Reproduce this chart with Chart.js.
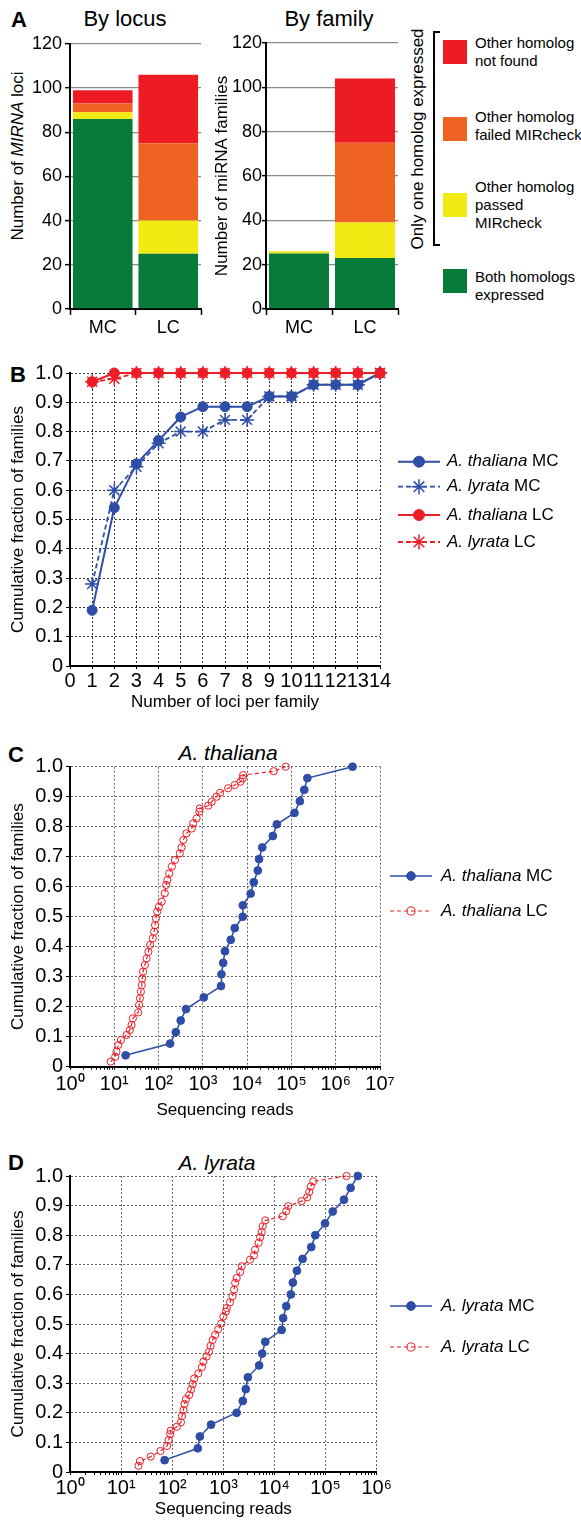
<!DOCTYPE html>
<html>
<head>
<meta charset="utf-8">
<script src="https://cdn.jsdelivr.net/npm/chart.js@4.4.1/dist/chart.umd.min.js"></script>
<style>
body { margin: 0; background: #fff; }
#page { position: relative; width: 581px; height: 1520px; overflow: hidden; font-family: "Liberation Sans", Arial, sans-serif; color: #000; }
canvas { position: absolute; }
.t { position: absolute; white-space: nowrap; line-height: 1; }
.c { transform: translateX(-50%); }
.r { transform: translate(-50%, -50%) rotate(-90deg); }
.sq { position: absolute; left: 443px; width: 24px; height: 24px; }
.lt { position: absolute; left: 475px; font-size: 15px; line-height: 18px; white-space: nowrap; }
</style>
</head>
<body>
<div id="page">
  <div class="t" style="left:11px;top:9px;font-size:22px;font-weight:bold">A</div>
  <div class="t c" style="left:125px;top:8px;font-size:22px">By locus</div>
  <div class="t c" style="left:329px;top:8px;font-size:22px">By family</div>
  <div class="t r" style="left:17px;top:156px;font-size:17px">Number of <i>MIRNA</i> loci</div>

  <div class="t r" style="left:417px;top:139px;font-size:17px">Only one homolog expressed</div>
  <div style="position:absolute;left:433px;top:31px;width:5px;height:211px;border:2px solid #000;border-right:none"></div>
  <div class="sq" style="top:40px;background:#ED1C24"></div>
  <div class="lt" style="top:34px">Other homolog<br>not found</div>
  <div class="sq" style="top:117px;background:#EE6321"></div>
  <div class="lt" style="top:108px">Other homolog<br>failed MIRcheck</div>
  <div class="sq" style="top:193px;background:#F2EA12"></div>
  <div class="lt" style="top:178px">Other homolog<br>passed<br>MIRcheck</div>
  <div class="sq" style="top:269px;background:#087B3A"></div>
  <div class="lt" style="top:268px">Both homologs<br>expressed</div>

  <div class="t" style="left:10px;top:364px;font-size:22px;font-weight:bold">B</div>
  <div class="t" style="left:8px;top:744px;font-size:22px;font-weight:bold">C</div>
  <div class="t c" style="left:228px;top:742px;font-size:21px;font-style:italic">A. thaliana</div>
  <div class="t" style="left:8px;top:1152px;font-size:22px;font-weight:bold">D</div>
  <div class="t c" style="left:217px;top:1152px;font-size:21px;font-style:italic">A. lyrata</div>

  <canvas id="locus" width="210" height="318" style="left:0;top:30px"></canvas>
  <canvas id="family" width="210" height="318" style="left:200px;top:30px"></canvas>
  <canvas id="loci" width="581" height="380" style="left:0;top:340px"></canvas>
  <canvas id="thal" width="581" height="390" style="left:0;top:735px"></canvas>
  <canvas id="lyr" width="581" height="380" style="left:0;top:1140px"></canvas>
</div>
<script>
// panel A: stacked bars
var barCats = ["MC", "LC"];
var locusBoth = [86, 25];
var locusPassed = [3, 15];
var locusFailed = [4, 35];
var locusNotFound = [6, 31];
var familyBoth = [25, 23];
var familyPassed = [1, 16];
var familyFailed = [0, 36];
var familyNotFound = [0, 29];

// panel B: cumulative fraction vs loci per family
var lociPerFamily = [1, 2, 3, 4, 5, 6, 7, 8, 9, 10, 11, 12, 13, 14];
var thalMC = [0.19, 0.54, 0.69, 0.77, 0.85, 0.885, 0.885, 0.885, 0.92, 0.92, 0.96, 0.96, 0.96, 1.0];
var lyrMC = [0.28, 0.60, 0.68, 0.76, 0.80, 0.80, 0.84, 0.84, 0.92, 0.92, 0.96, 0.96, 0.96, 1.0];
var thalLC = [0.97, 1.0, 1.0, 1.0, 1.0, 1.0, 1.0, 1.0, 1.0, 1.0, 1.0, 1.0, 1.0, 1.0];
var lyrLC = [0.97, 0.98, 1.0, 1.0, 1.0, 1.0, 1.0, 1.0, 1.0, 1.0, 1.0, 1.0, 1.0, 1.0];
var lociTicks = ["0", "1", "2", "3", "4", "5", "6", "7", "8", "9", "10", "11", "12", "13", "14"];

var fracVals = [0, 0.1, 0.2, 0.3, 0.4, 0.5, 0.6, 0.7, 0.8, 0.9, 1.0];
var fracTicks = ["0", "0.1", "0.2", "0.3", "0.4", "0.5", "0.6", "0.7", "0.8", "0.9", "1.0"];

// panel C: A. thaliana reads
var cMCReads = [18, 182, 245, 316, 417, 1050, 2570, 2630, 2880, 3160, 4270, 5250, 7940, 8000, 12000, 14100, 17400, 18600, 21900, 38000, 46800, 117000, 155000, 195000, 229000, 2400000];
var cMCFrac = [0.038, 0.077, 0.115, 0.154, 0.192, 0.231, 0.269, 0.308, 0.346, 0.385, 0.423, 0.462, 0.5, 0.538, 0.577, 0.615, 0.654, 0.692, 0.731, 0.769, 0.808, 0.846, 0.885, 0.923, 0.962, 1.0];
var cLCReads = [8.3, 10.5, 11.2, 12.3, 14.1, 19, 22.4, 24.5, 26.3, 34.7, 36.3, 38, 39.8, 41.7, 42.7, 44.7, 49, 53.7, 58.9, 64.6, 74.1, 79.4, 83.2, 87.1, 93.3, 102, 117, 138, 148, 158, 174, 200, 234, 302, 331, 363, 427, 562, 603, 724, 832, 851, 1320, 1580, 2040, 2450, 3720, 5250, 7080, 7940, 8130, 39800, 74100];
var cLCFrac = [0.017, 0.033, 0.05, 0.072, 0.089, 0.106, 0.122, 0.139, 0.161, 0.181, 0.206, 0.228, 0.25, 0.272, 0.294, 0.317, 0.339, 0.361, 0.383, 0.406, 0.428, 0.45, 0.472, 0.494, 0.517, 0.533, 0.55, 0.578, 0.606, 0.622, 0.644, 0.667, 0.689, 0.711, 0.731, 0.756, 0.778, 0.794, 0.811, 0.828, 0.85, 0.861, 0.87, 0.883, 0.9, 0.913, 0.928, 0.939, 0.95, 0.961, 0.972, 0.985, 1.0];
var cReadVals = [1, 10, 100, 1e3, 1e4, 1e5, 1e6, 1e7];
var cReadTicks = ["10\u2070", "10\u00B9", "10\u00B2", "10\u00B3", "10\u2074", "10\u2075", "10\u2076", "10\u2077"];

// panel D: A. lyrata reads
var dMCReads = [71, 316, 347, 575, 1820, 2400, 2750, 3020, 5010, 5750, 6610, 13800, 14800, 17000, 20900, 22900, 27500, 35500, 52500, 63100, 97700, 138000, 229000, 309000, 427000];
var dMCFrac = [0.04, 0.08, 0.12, 0.16, 0.2, 0.24, 0.28, 0.32, 0.36, 0.4, 0.44, 0.48, 0.52, 0.56, 0.6, 0.64, 0.68, 0.72, 0.76, 0.8, 0.84, 0.88, 0.92, 0.96, 1.0];
var dLCReads = [21.9, 23.4, 38, 58.9, 79.4, 85.1, 91.2, 93.3, 123, 148, 155, 166, 174, 186, 214, 234, 251, 269, 324, 380, 407, 468, 525, 562, 617, 692, 794, 912, 1000, 1120, 1170, 1350, 1510, 1620, 1700, 1820, 2140, 2290, 3310, 3980, 4170, 4900, 5250, 5620, 5890, 6610, 14500, 17000, 18600, 33900, 43700, 47900, 51300, 57500, 257000];
var dLCFrac = [0.021, 0.037, 0.052, 0.071, 0.088, 0.108, 0.128, 0.14, 0.153, 0.168, 0.189, 0.209, 0.23, 0.246, 0.26, 0.279, 0.297, 0.316, 0.333, 0.354, 0.373, 0.39, 0.406, 0.426, 0.446, 0.463, 0.482, 0.502, 0.525, 0.542, 0.554, 0.573, 0.594, 0.616, 0.639, 0.655, 0.676, 0.695, 0.717, 0.732, 0.751, 0.774, 0.793, 0.811, 0.83, 0.85, 0.864, 0.881, 0.898, 0.915, 0.928, 0.946, 0.965, 0.982, 1.0];
var dReadVals = [1, 10, 100, 1e3, 1e4, 1e5, 1e6];
var dReadTicks = ["10\u2070", "10\u00B9", "10\u00B2", "10\u00B3", "10\u2074", "10\u2075", "10\u2076"];

var RED = "#ED1C24", ORANGE = "#EE6321", YELLOW = "#F2EA12", GREEN = "#087B3A";
var BLUE = "#2E4DA7", LRED = "#EE1C25";

Chart.defaults.font.family = '"Liberation Sans", Arial, sans-serif';
Chart.defaults.color = "#000";
Chart.defaults.animation = false;
Chart.defaults.plugins.legend.display = false;
Chart.defaults.plugins.tooltip.enabled = false;

function xy(xs, ys) {
  return xs.map(function (x, i) { return { x: x, y: ys[i] }; });
}

// --- panel A ---
function barChart(id, d, yWidth, padRight, tickPad, tickLen, yTitle) {
  new Chart(id, {
    type: "bar",
    data: {
      labels: barCats,
      datasets: [
        { label: "Both homologs expressed", data: d[0], backgroundColor: GREEN },
        { label: "Other homolog passed MIRcheck", data: d[1], backgroundColor: YELLOW },
        { label: "Other homolog failed MIRcheck", data: d[2], backgroundColor: ORANGE },
        { label: "Other homolog not found", data: d[3], backgroundColor: RED }
      ]
    },
    options: {
      responsive: false,
      borderWidth: 0,
      barPercentage: 0.91,
      categoryPercentage: 1,
      layout: { padding: { left: 0, right: padRight, top: 13, bottom: 3 } },
      scales: {
        x: {
          stacked: true,
          afterFit: function (s) { s.height = 36; },
          grid: { offset: true, drawOnChartArea: false, tickLength: 6, tickColor: "#000", tickWidth: 1.5 },
          border: { color: "#000", width: 2 },
          ticks: { font: { size: 18 }, padding: 2 }
        },
        y: {
          stacked: true,
          min: 0,
          max: 120,
          afterFit: function (s) { s.width = yWidth; },
          ticks: { stepSize: 20, font: { size: 18 }, padding: tickPad },
          grid: { color: "#8a8a8a", lineWidth: 1.3, tickLength: tickLen, tickColor: "#000", tickWidth: 1.5 },
          border: { color: "#000", width: 2 },
          title: yTitle ? { display: true, text: yTitle, font: { size: 17 }, padding: { top: 12, bottom: 0 } } : { display: false }
        }
      }
    }
  });
}

barChart("locus", [locusBoth, locusPassed, locusFailed, locusNotFound], 70, 9, 3, 5, null);
barChart("family", [familyBoth, familyPassed, familyFailed, familyNotFound], 66, 12, 0, 4, "Number of miRNA families");

// legend drawn beside the line charts
function sideLegend(x, len, gap, ys, rows) {
  return {
    id: "sideLegend",
    afterDraw: function (chart) {
      var ctx = chart.ctx;
      ctx.save();
      rows.forEach(function (row, i) {
        var ds = chart.data.datasets[i];
        var y = ys[i];
        ctx.lineWidth = ds.borderWidth;
        ctx.strokeStyle = ds.borderColor;
        ctx.setLineDash(ds.borderDash || []);
        ctx.beginPath();
        ctx.moveTo(x, y);
        ctx.lineTo(x + len, y);
        ctx.stroke();
        ctx.setLineDash([]);
        ctx.fillStyle = ds.pointBackgroundColor;
        ctx.strokeStyle = ds.pointBorderColor;
        ctx.lineWidth = ds.pointBorderWidth;
        Chart.helpers.drawPoint(ctx, {
          pointStyle: ds.pointStyle, radius: ds.pointRadius + 0.5,
          borderWidth: ds.pointBorderWidth, rotation: 0
        }, x + len / 2, y);
        var tx = x + len + gap;
        ctx.fillStyle = "#000";
        ctx.textAlign = "left";
        ctx.textBaseline = "middle";
        ctx.font = 'italic 17px "Liberation Sans", Arial, sans-serif';
        ctx.fillText(row[0], tx, y);
        var w = ctx.measureText(row[0]).width;
        ctx.font = '17px "Liberation Sans", Arial, sans-serif';
        ctx.fillText(row[1], tx + w, y);
      });
      ctx.restore();
    }
  };
}

function fracAxis() {
  return {
    min: 0,
    max: 1,
    afterFit: function (s) { s.width = 70; },
    afterBuildTicks: function (s) { s.ticks = fracVals.map(function (v) { return { value: v }; }); },
    ticks: { font: { size: 20 }, padding: 3, callback: function (v, i) { return fracTicks[i]; } },
    grid: { color: "#333", lineWidth: 1, tickLength: 4, tickColor: "#000" },
    border: { color: "#000", width: 2, dash: [2, 2] },
    title: { display: true, text: "Cumulative fraction of families", font: { size: 17 }, padding: { top: 8, bottom: 0 } }
  };
}

// --- panel B ---
new Chart("loci", {
  type: "line",
  data: {
    datasets: [
      { data: xy(lociPerFamily, thalMC), borderColor: BLUE, borderWidth: 2, pointStyle: "circle", pointRadius: 5,
        pointBackgroundColor: BLUE, pointBorderColor: BLUE, pointBorderWidth: 1, order: 1, clip: false },
      { data: xy(lociPerFamily, lyrMC), borderColor: BLUE, borderWidth: 1.8, borderDash: [5, 3], pointStyle: "star", pointRadius: 7,
        pointBackgroundColor: BLUE, pointBorderColor: BLUE, pointBorderWidth: 1.5, order: 1, clip: false },
      { data: xy(lociPerFamily, thalLC), borderColor: LRED, borderWidth: 2, pointStyle: "circle", pointRadius: 5,
        pointBackgroundColor: LRED, pointBorderColor: LRED, pointBorderWidth: 1, order: 0, clip: false },
      { data: xy(lociPerFamily, lyrLC), borderColor: LRED, borderWidth: 1.8, borderDash: [5, 3], pointStyle: "star", pointRadius: 7,
        pointBackgroundColor: LRED, pointBorderColor: LRED, pointBorderWidth: 1.5, order: 0, clip: false }
    ]
  },
  options: {
    responsive: false,
    layout: { padding: { left: 0, right: 201, top: 33, bottom: 2 } },
    scales: {
      x: {
        type: "linear",
        min: 0,
        max: 14,
        afterFit: function (s) { s.height = 52; },
        afterBuildTicks: function (s) { s.ticks = lociTicks.map(function (t, i) { return { value: i }; }); },
        ticks: { font: { size: 20 }, padding: 0, autoSkip: false, maxRotation: 0, minRotation: 0,
          callback: function (v, i) { return lociTicks[i]; } },
        grid: { color: "#333", lineWidth: 1, tickLength: 3, tickColor: "#000" },
        border: { color: "#000", width: 2, dash: [2, 2] },
        title: { display: true, text: "Number of loci per family", font: { size: 17 }, padding: { top: 0, bottom: 5 } }
      },
      y: fracAxis()
    }
  },
  plugins: [sideLegend(398, 42, 7, [121.7, 146.7, 175, 202],
    [["A. thaliana", " MC"], ["A. lyrata", " MC"], ["A. thaliana", " LC"], ["A. lyrata", " LC"]])]
});

// --- panels C and D ---
function readsChart(id, mc, lc, vals, labels, pad, xh, tickPad, titlePad, names, legendYs) {
  new Chart(id, {
    type: "line",
    data: {
      datasets: [
        { data: mc, borderColor: BLUE, borderWidth: 1.5, pointStyle: "circle", pointRadius: 3.9,
          pointBackgroundColor: BLUE, pointBorderColor: BLUE, pointBorderWidth: 1, clip: false },
        { data: lc, borderColor: LRED, borderWidth: 1.2, borderDash: [4, 3], pointStyle: "circle", pointRadius: 3.6,
          pointBackgroundColor: "rgba(255,255,255,0)", pointBorderColor: LRED, pointBorderWidth: 1, clip: false }
      ]
    },
    options: {
      responsive: false,
      layout: { padding: pad },
      scales: {
        x: {
          type: "logarithmic",
          min: vals[0],
          max: vals[vals.length - 1],
          afterFit: function (s) { s.height = xh; },
          afterBuildTicks: function (s) {
            var t = [];
            vals.forEach(function (m, i) {
              t.push({ value: m, major: true });
              if (i < vals.length - 1) {
                for (var k = 2; k < 10; k++) t.push({ value: m * k, major: false });
              }
            });
            s.ticks = t;
          },
          ticks: { font: { size: 20 }, padding: tickPad, autoSkip: false, maxRotation: 0, minRotation: 0,
            callback: function (v, i, ticks) { return ticks[i].major ? labels[vals.indexOf(v)] : ""; } },
          grid: {
            color: function (c) { return c.tick && c.tick.major ? "#666" : "rgba(0,0,0,0)"; },
            lineWidth: 1, tickLength: 3, tickColor: "#000"
          },
          border: { color: "#000", width: 2, dash: [2, 2] },
          title: { display: true, text: "Sequencing reads", font: { size: 17 }, padding: { top: 0, bottom: titlePad } }
        },
        y: (function () {
          var a = fracAxis();
          a.grid.color = "#666";
          return a;
        })()
      }
    },
    plugins: [sideLegend(390, 42, 9, legendYs, [[names, " MC"], [names, " LC"]])]
  });
}

readsChart("thal", xy(cMCReads, cMCFrac), xy(cLCReads, cLCFrac), cReadVals, cReadTicks,
  { left: 0, right: 201, top: 31.7, bottom: 2 }, 56.3, 3, 2, "A. thaliana", [141, 176]);
readsChart("lyr", xy(dMCReads, dMCFrac), xy(dLCReads, dLCFrac), dReadVals, dReadTicks,
  { left: 0, right: 204.3, top: 36, bottom: 0 }, 48, 1, 0, "A. lyrata", [166, 207]);
</script>
</body>
</html>
